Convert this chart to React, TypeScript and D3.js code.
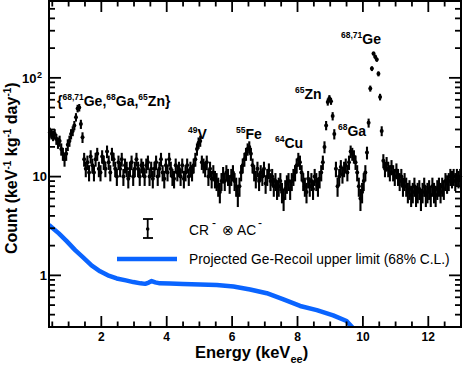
import React from 'react'
import * as d3 from 'd3'

// histogram binning of the measured spectrum (keVee)
const binStart = 0.4
const binWidth = 0.05

// CR- x AC- count rate, counts / (keV kg day), one value per 50 eV bin from 0.4 keV
const countRate = [
  28, 27, 26, 27, 24, 22, 23, 19, 17, 15, 17, 21, 23, 27, 29, 33, 40, 49, 50, 34,
  25, 15, 12, 14, 11, 16, 13, 11, 15, 17, 12, 11, 16, 14, 12, 18, 14, 11, 17, 15,
  12, 10, 14, 12, 15, 10, 13, 12, 9.5, 12, 14, 10, 12, 15, 12, 10, 13, 12, 10, 13,
  14, 10, 12, 9.5, 12, 14, 10, 12, 15, 11, 9.5, 13, 11, 15, 12, 10, 9.5, 13, 11, 12,
  10, 13, 9.5, 11, 13, 10, 12, 11, 13, 15, 19, 22, 23, 14, 13, 12, 14, 10, 12, 9.5,
  11, 9.5, 9, 8, 7, 9, 10.5, 9, 11, 10, 8.5, 10, 11, 9, 8, 6.5, 8, 11, 13, 15,
  17, 19, 20, 17, 13, 11, 9.5, 12, 9, 11, 10, 12, 8.5, 10, 11.5, 9, 10, 8, 9, 7.5,
  8, 9, 7, 6, 7.5, 8.5, 9, 7.5, 9, 10, 11, 13, 15, 14, 11, 9, 8, 7, 9.5, 8,
  9, 7.5, 10, 9, 8, 9.5, 11, 14, 20, 33, 57, 62, 58, 41, 27, 12, 8, 10, 12.5, 10.5,
  12, 13, 11, 14, 18, 17, 16, 14, 11, 8, 6, 7, 9, 11, 17.5, 35, 78, 124, 176, 164,
  153, 110, 64, 29, 14.5, 12, 13.5, 12, 11, 12.5, 11, 10, 11.5, 10, 9, 10, 8, 9, 8, 7,
  7.5, 6.5, 7, 8, 6.5, 7, 7.5, 6, 7, 8, 6.5, 7, 7.5, 6.5, 8, 7, 6.5, 7.5, 8, 7,
  8, 7.5, 9, 8.5, 9, 10, 9.5, 10, 9, 10, 9.5, 10
]
// statistical (Poisson) errors: counts per unit of rate
const countsPerUnit = 2.6

// projected Ge-recoil upper limit (68% C.L.)
const limitEnergy = [0.4, 0.7, 0.94, 1.2, 1.45, 1.7, 1.96, 2.2, 2.47, 2.75, 2.98, 3.2, 3.34, 3.45, 3.54, 3.65, 3.79, 4.1, 4.5, 5.02, 5.53, 6.04, 6.55, 7.06, 7.57, 8.08, 8.59, 9.09, 9.5, 9.71, 9.8]
const limitValue = [3.23, 2.66, 2.22, 1.8, 1.51, 1.26, 1.1, 1.0, 0.93, 0.89, 0.855, 0.83, 0.82, 0.845, 0.875, 0.85, 0.83, 0.825, 0.817, 0.81, 0.8, 0.77, 0.72, 0.66, 0.57, 0.49, 0.445, 0.394, 0.345, 0.29, 0.26]

const xTicks = [2, 4, 6, 8, 10, 12]
const yTickLabels = ['1', '10', '10²']

const W = 463
const H = 368
const margin = { left: 49, right: 2, top: 1, bottom: 41 }
const FONT = 'Liberation Sans, Arial, Helvetica, sans-serif'
const BLUE = '#0a64ff'

function Isotope({ x, y, parts }: { x: number; y: number; parts: [string, string][] }) {
  return (
    <text x={x} y={y} fontFamily={FONT} fontWeight="bold" fontSize={14}>
      {parts.map(([sup, main], i) => (
        <React.Fragment key={i}>
          {sup ? <tspan fontSize={8.5} dy={-6}>{sup}</tspan> : null}
          <tspan dy={sup ? 6 : 0}>{main}</tspan>
        </React.Fragment>
      ))}
    </text>
  )
}

export default function App() {
  const x = d3.scaleLinear().domain([0.4, 13]).range([margin.left, W - margin.right])
  const y = d3.scaleLog().domain([0.3, 600]).range([H - margin.bottom, margin.top])
  const [x0, x1] = x.range()
  const [yb, yt] = y.range()

  const points = countRate.map((v, i) => {
    const e = binStart + binWidth * (i + 0.5)
    const err = Math.sqrt(v * countsPerUnit) / countsPerUnit
    return { e, v, lo: Math.max(v - err, 0.31), hi: v + err }
  })

  const limitLine = d3.line<number>()
    .x((_, i) => x(limitEnergy[i]))
    .y(d => y(d))(limitValue)

  const xMinor = d3.range(0.5, 13.01, 0.5).filter(t => !xTicks.includes(t))
  const yAll = y.ticks()
  const isMajor = (t: number) => Math.abs(Math.log10(t) - Math.round(Math.log10(t))) < 1e-6

  return (
    <div style={{ position: 'absolute', left: 0, top: 0 }}>
      <svg width={W} height={H} style={{ display: 'block', background: '#fff' }}>
        <defs>
          <clipPath id="plot">
            <rect x={x0} y={yt} width={x1 - x0} height={yb - yt} />
          </clipPath>
        </defs>

        {/* data with error bars */}
        <g>
          {points.map((p, i) => (
            <line key={'e' + i} x1={x(p.e)} x2={x(p.e)} y1={y(p.lo)} y2={y(p.hi)} stroke="#000" strokeWidth={2.1} />
          ))}
          {points.map((p, i) => (
            <circle key={'c' + i} cx={x(p.e)} cy={y(p.v)} r={2} fill="#000" />
          ))}
        </g>

        <path d={limitLine || ''} fill="none" stroke={BLUE} strokeWidth={4.5} clipPath="url(#plot)" strokeLinejoin="round" />

        {/* frame and ticks */}
        <rect x={x0} y={yt} width={x1 - x0} height={yb - yt} fill="none" stroke="#000" strokeWidth={2} />
        <g stroke="#000" strokeWidth={1.8}>
          {xTicks.map(t => (
            <React.Fragment key={'xt' + t}>
              <line x1={x(t)} x2={x(t)} y1={yb} y2={yb - 11} />
              <line x1={x(t)} x2={x(t)} y1={yt} y2={yt + 11} />
            </React.Fragment>
          ))}
          {xMinor.map(t => (
            <React.Fragment key={'xm' + t}>
              <line x1={x(t)} x2={x(t)} y1={yb} y2={yb - 5.5} />
              <line x1={x(t)} x2={x(t)} y1={yt} y2={yt + 5.5} />
            </React.Fragment>
          ))}
          {yAll.map(t => {
            const len = isMajor(t) ? 12 : 6
            return (
              <React.Fragment key={'yt' + t}>
                <line x1={x0} x2={x0 + len} y1={y(t)} y2={y(t)} />
                <line x1={x1} x2={x1 - len} y1={y(t)} y2={y(t)} />
              </React.Fragment>
            )
          })}
        </g>

        {/* tick labels */}
        <g fontFamily={FONT} fontWeight="bold" fontSize={12} textAnchor="middle">
          {xTicks.map(t => (
            <text key={'xl' + t} x={x(t)} y={yb + 13.5}>{t}</text>
          ))}
        </g>
        <g fontFamily={FONT} fontWeight="bold" fontSize={13} textAnchor="end">
          <text x={47} y={y(1) + 4.7}>{yTickLabels[0]}</text>
          <text x={47} y={y(10) + 4.7}>{yTickLabels[1]}</text>
          <text x={42} y={y(100) + 4.7}>10<tspan fontSize={9} dy={-5} dx={0.5}>2</tspan></text>
        </g>

        {/* axis titles */}
        <text x={195} y={358} fontFamily={FONT} fontWeight="bold" fontSize={16.5}>
          Energy (keV<tspan fontSize={11} dy={5}>ee</tspan><tspan dy={-5}>)</tspan>
        </text>
        <text transform="translate(17,254) rotate(-90)" fontFamily={FONT} fontWeight="bold" fontSize={16}>
          Count (keV<tspan fontSize={10} dy={-6}>-1</tspan>
          <tspan dy={6}> kg</tspan><tspan fontSize={10} dy={-6}>-1</tspan>
          <tspan dy={6}> day</tspan><tspan fontSize={10} dy={-6}>-1</tspan>
          <tspan dy={6}>)</tspan>
        </text>

        {/* peak labels */}
        <Isotope x={57} y={106} parts={[['', '{'], ['68,71', 'Ge,'], ['68', 'Ga,'], ['65', 'Zn}']]} />
        <Isotope x={188} y={139} parts={[['49', 'V']]} />
        <Isotope x={236} y={139} parts={[['55', 'Fe']]} />
        <Isotope x={275} y={148} parts={[['64', 'Cu']]} />
        <Isotope x={295} y={99} parts={[['65', 'Zn']]} />
        <Isotope x={338} y={136} parts={[['68', 'Ga']]} />
        <Isotope x={341} y={44} parts={[['68,71', 'Ge']]} />

        {/* legend */}
        <g stroke="#000" strokeWidth={1.8}>
          <line x1={147.7} x2={147.7} y1={219} y2={238} />
          <line x1={143} x2={153} y1={219} y2={219} />
          <line x1={143} x2={153} y1={238} y2={238} />
        </g>
        <circle cx={147.7} cy={229} r={1.8} fill="#000" />
        <g fontFamily={FONT} fontSize={13.8}>
          <text x={189} y={235}>CR</text>
          <text x={212} y={227} fontSize={12}>-</text>
          <text x={222} y={235}>⊗</text>
          <text x={237} y={235}>AC</text>
          <text x={258} y={227} fontSize={12}>-</text>
          <text x={189} y={263.5}>Projected Ge-Recoil upper limit (68% C.L.)</text>
        </g>
        <line x1={117} x2={177} y1={259} y2={259} stroke={BLUE} strokeWidth={4.5} />
      </svg>
    </div>
  )
}
